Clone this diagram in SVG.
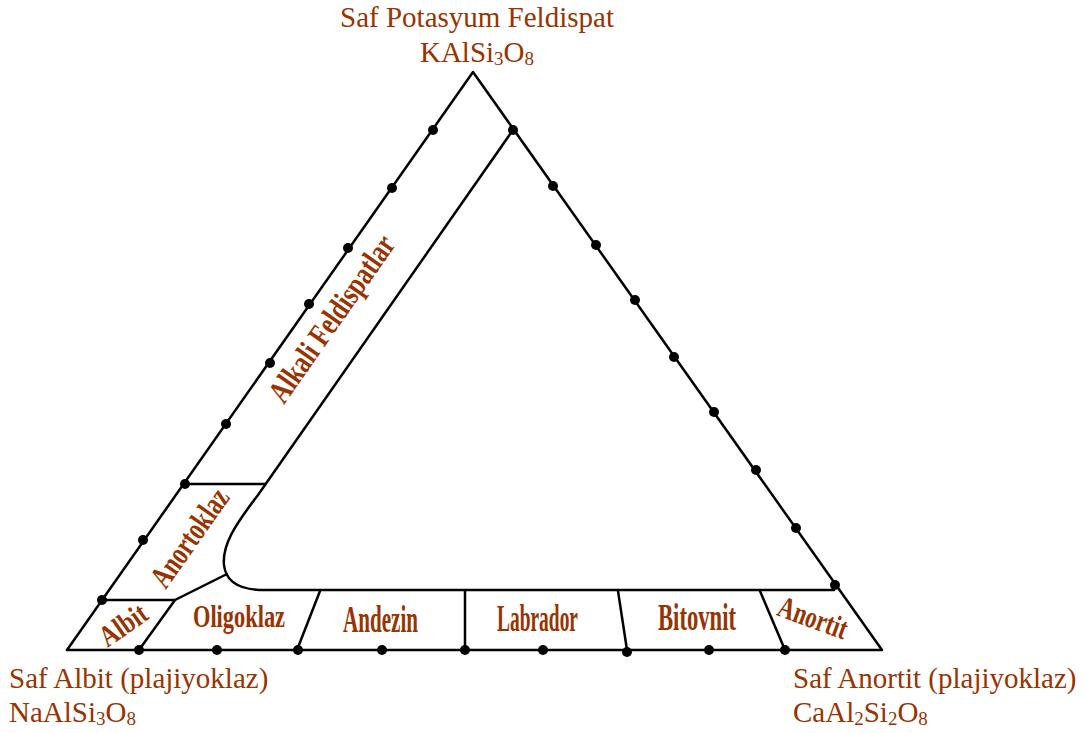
<svg xmlns="http://www.w3.org/2000/svg" width="1085" height="733" viewBox="0 0 1085 733">
<style>
.ln{fill:none;stroke:#000;stroke-width:2.5;stroke-linejoin:round;stroke-linecap:round}
.dot{fill:#000}
.cap{font-family:"Liberation Serif","Times New Roman",serif;font-size:29px;fill:#993300}
.lab{font-family:"Liberation Serif","Times New Roman",serif;font-weight:bold;fill:#993300}
</style>
<rect width="1085" height="733" fill="#fff"/>
<g id="connectors">
<path class="ln" d="M473,72 L67,650 L882,650 Z"/>
<path class="ln" d="M513,130 L258,495 C235,525 222,545 224,565 C226,585 245,591 270,590 L834,590"/>
<path class="ln" d="M185,484 L265,484"/>
<path class="ln" d="M102,600 L175,600 L227,574"/>
<path class="ln" d="M175,600 L139,650"/>
<path class="ln" d="M320,591 L297,650"/>
<path class="ln" d="M465,591 L465,650"/>
<path class="ln" d="M618,591 L627,650"/>
<path class="ln" d="M760,591 L785,650"/>
</g>
<g id="dots">
<circle class="dot" cx="433" cy="130" r="5"/>
<circle class="dot" cx="392" cy="188" r="5"/>
<circle class="dot" cx="348" cy="248" r="5"/>
<circle class="dot" cx="309" cy="304" r="5"/>
<circle class="dot" cx="270" cy="363" r="5"/>
<circle class="dot" cx="226" cy="424" r="5"/>
<circle class="dot" cx="185" cy="484" r="5"/>
<circle class="dot" cx="143" cy="540" r="5"/>
<circle class="dot" cx="102" cy="600" r="5"/>
<circle class="dot" cx="513" cy="130" r="5"/>
<circle class="dot" cx="553" cy="186" r="5"/>
<circle class="dot" cx="596" cy="245" r="5"/>
<circle class="dot" cx="635" cy="300" r="5"/>
<circle class="dot" cx="674" cy="357" r="5"/>
<circle class="dot" cx="714" cy="412" r="5"/>
<circle class="dot" cx="756" cy="470" r="5"/>
<circle class="dot" cx="796" cy="528" r="5"/>
<circle class="dot" cx="835" cy="585" r="5"/>
<circle class="dot" cx="139" cy="650" r="5"/>
<circle class="dot" cx="217" cy="650" r="5"/>
<circle class="dot" cx="298" cy="650" r="5"/>
<circle class="dot" cx="382" cy="650" r="5"/>
<circle class="dot" cx="465" cy="650" r="5"/>
<circle class="dot" cx="543" cy="650" r="5"/>
<circle class="dot" cx="627" cy="652" r="5"/>
<circle class="dot" cx="709" cy="650" r="5"/>
<circle class="dot" cx="785" cy="650" r="5"/>
</g>
<g id="top-label">
<text class="cap" x="477" y="27" text-anchor="middle">Saf Potasyum Feldispat</text>
<text class="cap" x="477" y="62" text-anchor="middle">KAlSi<tspan font-size="19" dy="3">3</tspan><tspan dy="-3">O</tspan><tspan font-size="19" dy="3">8</tspan></text>
</g>
<g id="left-label">
<text class="cap" x="9" y="688">Saf Albit (plajiyoklaz)</text>
<text class="cap" x="9" y="722">NaAlSi<tspan font-size="19" dy="3">3</tspan><tspan dy="-3">O</tspan><tspan font-size="19" dy="3">8</tspan></text>
</g>
<g id="right-label">
<text class="cap" x="793" y="688">Saf Anortit (plajiyoklaz)</text>
<text class="cap" x="793" y="722">CaAl<tspan font-size="19" dy="3">2</tspan><tspan dy="-3">Si</tspan><tspan font-size="19" dy="3">2</tspan><tspan dy="-3">O</tspan><tspan font-size="19" dy="3">8</tspan></text>
</g>
<g id="alkali-feldispatlar">
<text class="lab" font-size="32" transform="translate(332,319) rotate(-55)" x="0" y="10" text-anchor="middle" textLength="196" lengthAdjust="spacingAndGlyphs">Alkali Feldispatlar</text>
</g>
<g id="anortoklaz">
<text class="lab" font-size="32" transform="translate(190,538) rotate(-55)" x="0" y="10" text-anchor="middle" textLength="113" lengthAdjust="spacingAndGlyphs">Anortoklaz</text>
</g>
<g id="albit">
<text class="lab" font-size="30" transform="translate(123,625) rotate(-35)" x="0" y="10" text-anchor="middle" textLength="52" lengthAdjust="spacingAndGlyphs">Albit</text>
</g>
<g id="oligoklaz">
<text class="lab" font-size="31" x="193" y="627" textLength="92" lengthAdjust="spacingAndGlyphs">Oligoklaz</text>
</g>
<g id="andezin">
<text class="lab" font-size="37" x="343" y="632" textLength="75" lengthAdjust="spacingAndGlyphs">Andezin</text>
</g>
<g id="labrador">
<text class="lab" font-size="37" x="497" y="631" textLength="81" lengthAdjust="spacingAndGlyphs">Labrador</text>
</g>
<g id="bitovnit">
<text class="lab" font-size="37" x="658" y="630" textLength="78" lengthAdjust="spacingAndGlyphs">Bitovnit</text>
</g>
<g id="anortit">
<text class="lab" font-size="31" transform="translate(813,618) rotate(20)" x="0" y="10" text-anchor="middle" textLength="72" lengthAdjust="spacingAndGlyphs">Anortit</text>
</g>
</svg>
